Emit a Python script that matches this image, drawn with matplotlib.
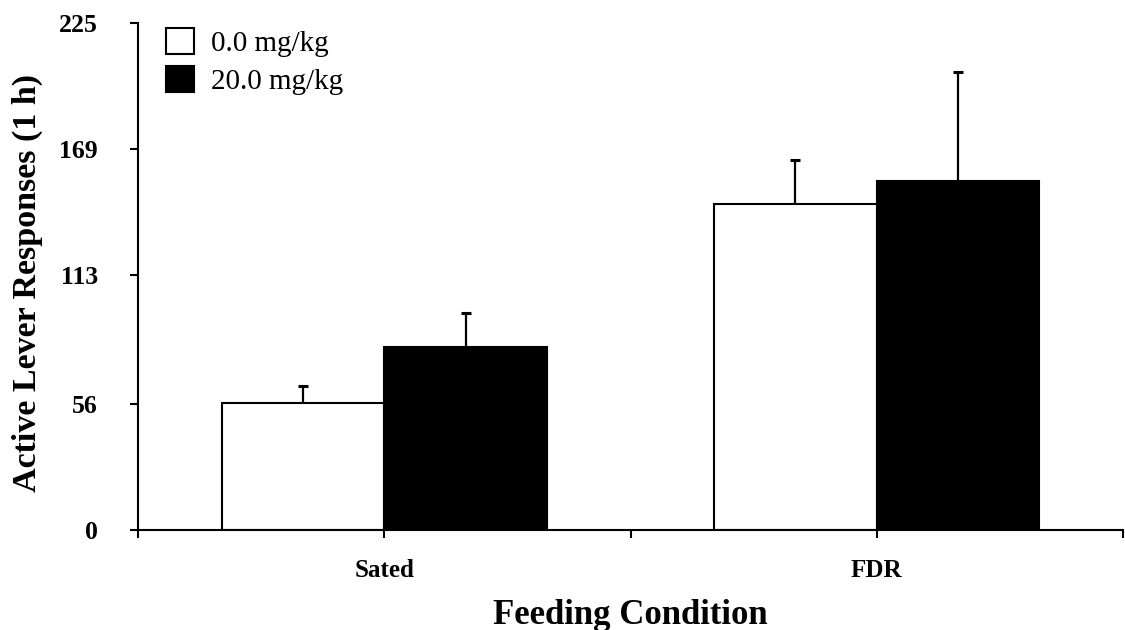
"""
Active lever responses by feeding condition and dose, drawn as grouped bars
with one-sided (upward) error bars.
"""
import matplotlib
matplotlib.use('Agg')
import matplotlib.pyplot as plt
import numpy as np

conditions = ['Sated', 'FDR']
doses = ['0.0 mg/kg', '20.0 mg/kg']
means_vehicle = [56.5, 144.6]
means_drug = [81.1, 155.1]
sem_vehicle = [7.6, 19.7]
sem_drug = [15.1, 48.1]
y_ticks = [0, 56, 113, 169, 225]

plt.rcParams['font.family'] = ['Liberation Serif', 'DejaVu Serif']

fig = plt.figure(figsize=(11.25, 6.3), dpi=100)
ax = fig.add_axes([0.123, 0.159, 0.875, 0.804])

x = np.array([1, 3])
width = 0.66
err_kw = dict(fmt='none', ecolor='black', elinewidth=1.6, capsize=3.6,
              capthick=2.2, zorder=1)

# error bars sit behind the opaque bars so only the upper half shows
for offset, means, sems, face, label in [
        (-width / 2, means_vehicle, sem_vehicle, 'white', doses[0]),
        (width / 2, means_drug, sem_drug, 'black', doses[1])]:
    ax.bar(x + offset, means, width, color=face, edgecolor='black',
           linewidth=1.5, label=label, zorder=2)
    ax.errorbar(x + offset, means, yerr=sems, **err_kw)

ax.set_xlim(0, 4)
ax.set_ylim(0, 225)
ax.set_xticks([0, 1, 2, 3, 4])
ax.set_xticklabels(['', conditions[0], '', conditions[1], ''],
                   fontsize=18, fontweight='bold')
ax.set_yticks(y_ticks)
ax.set_yticklabels([str(t) for t in y_ticks], fontsize=18.5, fontweight='bold')
ax.tick_params(axis='y', direction='out', length=6, width=1.5, pad=23)
ax.tick_params(axis='x', direction='out', length=6, width=1.5, pad=15)

for side in ('top', 'right'):
    ax.spines[side].set_visible(False)
for side in ('left', 'bottom'):
    ax.spines[side].set_linewidth(1.5)

ax.set_ylabel('Active Lever Responses (1 h)', fontsize=24.5, fontweight='bold')
ax.yaxis.set_label_coords(-0.097, 0.487)
ax.set_xlabel('Feeding Condition', fontsize=25, fontweight='bold', labelpad=12)

ax.legend(loc='upper left', bbox_to_anchor=(0.016, 1.014), frameon=False,
          fontsize=21, handlelength=0.95, handleheight=1.0, labelspacing=0.3,
          handletextpad=0.6, borderaxespad=0)

fig.savefig('out.png', dpi=100)
